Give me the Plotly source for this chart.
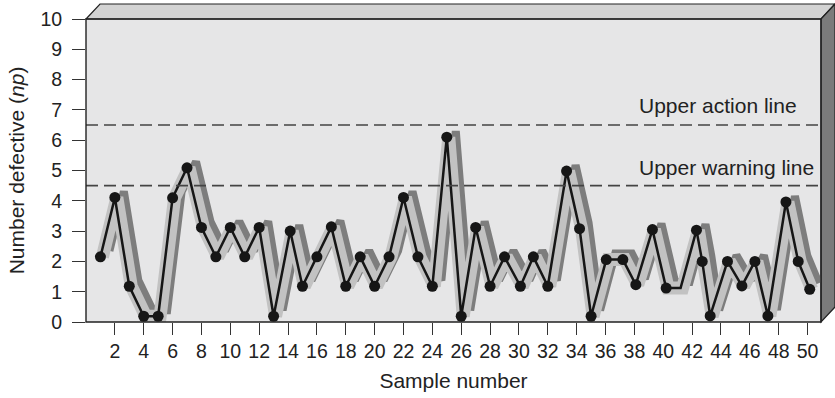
import plotly.graph_objects as go

# ---- data ----
sample = [1, 2, 3, 4, 5, 6, 7, 8, 9, 10, 11, 12, 13, 14.15, 15, 16, 17, 18, 19, 20,
          21, 22, 23, 24, 25, 26, 27, 28, 29, 30.1, 31, 32, 33.3, 34.2, 35, 36.05, 37.2,
          38.1, 39.25, 40.2, 41.2, 42.3, 42.7, 43.25, 44.45, 45.45, 46.35, 47.25, 48.5,
          49.35, 50.15]
defective = [2.15, 4.11, 1.18, 0.19, 0.19, 4.1, 5.09, 3.12, 2.15, 3.12, 2.15, 3.12, 0.19,
             3.0, 1.18, 2.15, 3.14, 1.18, 2.15, 1.18, 2.15, 4.11, 2.15, 1.18, 6.1, 0.19,
             3.12, 1.18, 2.15, 1.18, 2.15, 1.18, 4.98, 3.08, 0.19, 2.06, 2.06, 1.23, 3.05,
             1.12, 1.12, 3.03, 2.0, 0.2, 2.0, 1.19, 2.0, 0.2, 3.96, 2.0, 1.08]
marked = [True] * len(sample)
marked[40] = False  # vertex at 41 drawn without a dot

upper_action = 6.5
upper_warning = 4.5
x_ticks = list(range(2, 51, 2))
y_ticks = list(range(0, 11))

# ---- layout constants ----
W, H = 835, 398
ML, MR, MT, MB = 86, 14, 19, 76
PW, PH = W - ML - MR, H - MT - MB
XMAX = 50.93
DEPTH_X, DEPTH_Y = 14, 15  # pixel depth of 3D box

px_per_x = PW / XMAX
px_per_y = PH / 10.0

fig = go.Figure()

# 3D ribbon shadow: dark side, then light face
dx_dark, dy_dark = 9 / px_per_x, 6 / px_per_y
dx_light = 2 / px_per_x
fig.add_trace(go.Scatter(
    x=[s + dx_dark for s in sample], y=[v + dy_dark for v in defective],
    mode="lines", line=dict(color="#7d7d7d", width=8), hoverinfo="skip", showlegend=False))
fig.add_trace(go.Scatter(
    x=[s + dx_light for s in sample], y=defective,
    mode="lines", line=dict(color="#c2c2c2", width=13), hoverinfo="skip", showlegend=False))

# main line
fig.add_trace(go.Scatter(
    x=sample, y=defective, mode="lines",
    line=dict(color="#161616", width=2.5), showlegend=False))
fig.add_trace(go.Scatter(
    x=[s for s, m in zip(sample, marked) if m],
    y=[v for v, m in zip(defective, marked) if m],
    mode="markers", marker=dict(color="#161616", size=11), showlegend=False))

# control lines
for yv in (upper_action, upper_warning):
    fig.add_shape(type="line", xref="paper", yref="y", x0=0, x1=1, y0=yv, y1=yv,
                  line=dict(color="#444444", width=1.6, dash="12px,6px"), layer="above")

fig.add_annotation(x=38.2, y=7.16, xref="x", yref="y", text="Upper action line",
                   showarrow=False, xanchor="left", yanchor="middle",
                   font=dict(size=21, color="#222222"))
fig.add_annotation(x=38.2, y=5.11, xref="x", yref="y", text="Upper warning line",
                   showarrow=False, xanchor="left", yanchor="middle",
                   font=dict(size=21, color="#222222"))

# 3D box faces (paper coordinates)
ddx = DEPTH_X / PW
ddy = DEPTH_Y / PH
top_path = f"M 0 1 L {ddx} {1+ddy} L {1+ddx} {1+ddy} L 1 1 Z"
right_path = f"M 1 1 L {1+ddx} {1+ddy} L {1+ddx} {ddy} L 1 0 Z"
fig.add_shape(type="path", xref="paper", yref="paper", path=top_path,
              fillcolor="#d3d3d3", line=dict(color="#222222", width=1.2), layer="below")
fig.add_shape(type="path", xref="paper", yref="paper", path=right_path,
              fillcolor="#7b7b7b", line=dict(color="#222222", width=1.2), layer="below")
fig.add_shape(type="rect", xref="paper", yref="paper", x0=0, x1=1, y0=0, y1=1,
              line=dict(color="#222222", width=1.4), layer="above")

font_family = "Liberation Sans, Arial, sans-serif"
fig.update_layout(
    width=W, height=H,
    margin=dict(l=ML, r=MR, t=MT, b=MB, autoexpand=False),
    paper_bgcolor="white", plot_bgcolor="#e6e6e7",
    font=dict(family=font_family, size=21, color="#222222"),
    xaxis=dict(range=[0, XMAX], tickvals=x_ticks, ticktext=[str(t) for t in x_ticks],
               ticks="outside", ticklen=12, tickwidth=1.3, tickcolor="#333333",
               showgrid=False, zeroline=False, showline=False, automargin=False,
               title=dict(text="Sample number", standoff=11, font=dict(size=21)),
               tickfont=dict(size=19.5)),
    yaxis=dict(range=[0, 10], tickvals=y_ticks, ticks="outside", ticklen=13,
               tickwidth=1.3, tickcolor="#333333", showgrid=False, zeroline=False,
               showline=False, ticklabelstandoff=6, automargin=False,
               title=dict(text="Number defective (<i>np</i>)", standoff=10, font=dict(size=21)),
               tickfont=dict(size=19.5)),
)

fig.write_html("out.html", config={"displayModeBar": False},
               post_script="document.body.style.margin='0';")
